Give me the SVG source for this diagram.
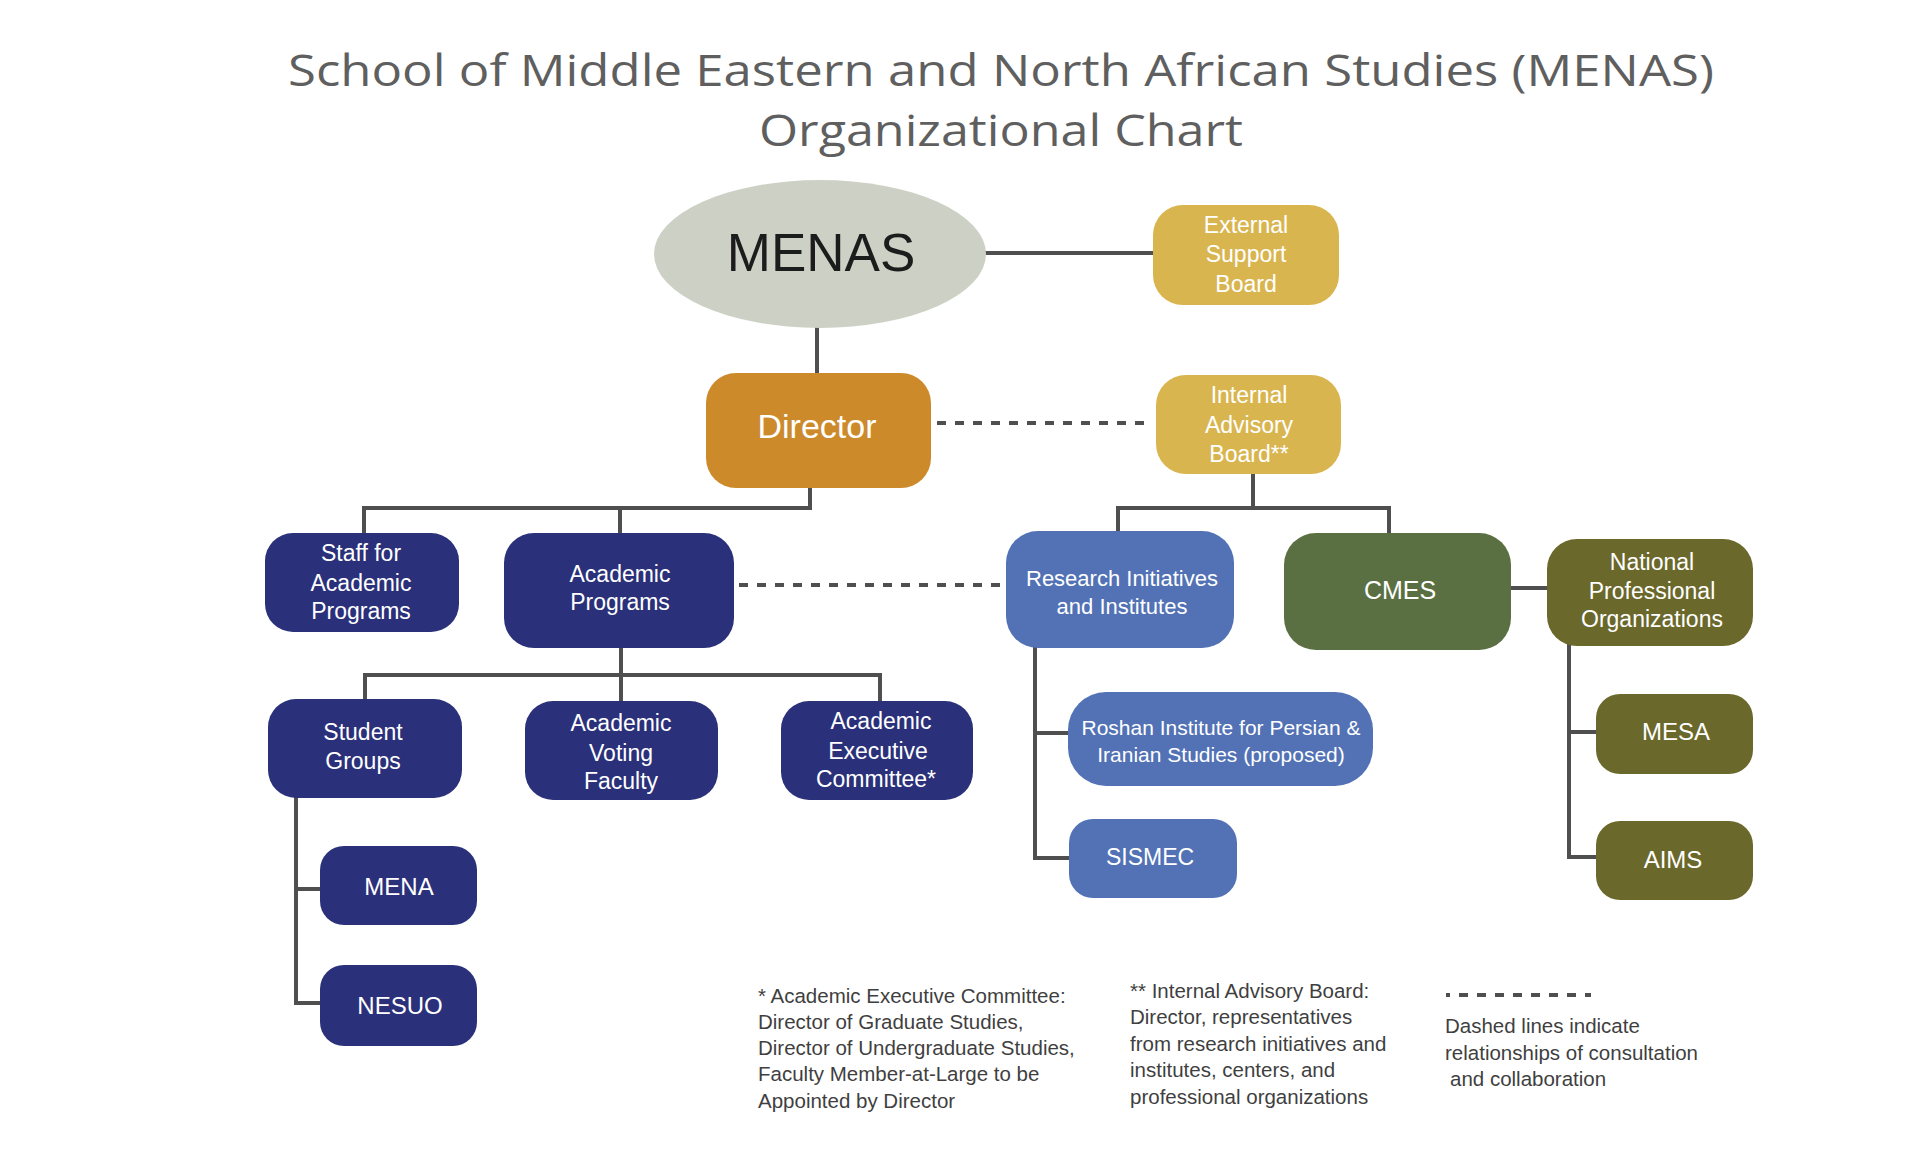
<svg xmlns="http://www.w3.org/2000/svg" width="1920" height="1155" viewBox="0 0 1920 1155">
<style>
  .title { font-family: "Open Sans", "Liberation Sans", sans-serif; font-size: 44px; fill: #5f5f5f; text-anchor: middle; }
  .t { font-family: "Liberation Sans", "Open Sans", sans-serif; font-size: 23px; fill: #ffffff; text-anchor: middle; }
  .s21 { font-size: 21px; }
  .s22 { font-size: 22px; }
  .s24 { font-size: 24px; }
  .s25 { font-size: 25px; }
  .s34 { font-size: 34px; }
  .note { font-family: "Liberation Sans", "Open Sans", sans-serif; font-size: 20.5px; fill: #3f3f3f; }
  .ln { fill: none; stroke: #4f4f4f; stroke-width: 4; }
  .dash { fill: none; stroke: #4f4f4f; stroke-width: 4; stroke-dasharray: 9 9; }
  .navy { fill: #2a3079; }
  .blue { fill: #5272b5; }
  .gold { fill: #d9b54f; }
  .olive { fill: #6b682b; }
</style>
<rect width="1920" height="1155" fill="#ffffff"/>
<g id="title">
  <text class="title" x="1001" y="86" textLength="1426" lengthAdjust="spacingAndGlyphs">School of Middle Eastern and North African Studies (MENAS)</text>
  <text class="title" x="1001" y="146" textLength="484" lengthAdjust="spacingAndGlyphs">Organizational Chart</text>
</g>
<g id="connectors">
  <line class="ln" x1="985" y1="253" x2="1155" y2="253"/>
  <line class="ln" x1="817" y1="326" x2="817" y2="375"/>
  <line class="dash" x1="937" y1="423" x2="1153" y2="423"/>
  <path class="ln" d="M810,486 V508 H364 V535 M620,508 V535"/>
  <path class="ln" d="M1253,472 V508 M1118,533 V508 H1389 V535"/>
  <line class="dash" x1="739" y1="585" x2="1003" y2="585"/>
  <path class="ln" d="M621,646 V703 M365,701 V675 H880 V703"/>
  <path class="ln" d="M296,796 V1003 H322 M296,889 H322"/>
  <path class="ln" d="M1035,646 V858 H1071 M1035,733 H1070"/>
  <line class="ln" x1="1509" y1="588" x2="1549" y2="588"/>
  <path class="ln" d="M1569,644 V857 H1598 M1569,732 H1598"/>
</g>
<g id="menas">
  <ellipse cx="820" cy="254" rx="166" ry="74" fill="#cdd1c5"/>
  <text x="821" y="271" font-family="Liberation Sans, Open Sans, sans-serif" font-size="53" fill="#1c1c1c" text-anchor="middle">MENAS</text>
</g>
<g id="external-support-board">
  <rect class="gold" x="1153" y="205" width="186" height="100" rx="30"/>
  <text class="t" x="1246" y="233">External</text>
  <text class="t" x="1246" y="262">Support</text>
  <text class="t" x="1246" y="292">Board</text>
</g>
<g id="director">
  <rect x="706" y="373" width="225" height="115" rx="30" fill="#cd8a2b"/>
  <text class="t s34" x="817" y="438">Director</text>
</g>
<g id="internal-advisory-board">
  <rect class="gold" x="1156" y="375" width="185" height="99" rx="30"/>
  <text class="t" x="1249" y="403">Internal</text>
  <text class="t" x="1249" y="433">Advisory</text>
  <text class="t" x="1249" y="462">Board**</text>
</g>
<g id="staff-for-academic-programs">
  <rect class="navy" x="265" y="533" width="194" height="99" rx="28"/>
  <text class="t" x="361" y="561">Staff for</text>
  <text class="t" x="361" y="591">Academic</text>
  <text class="t" x="361" y="619">Programs</text>
</g>
<g id="academic-programs">
  <rect class="navy" x="504" y="533" width="230" height="115" rx="30"/>
  <text class="t" x="620" y="582">Academic</text>
  <text class="t" x="620" y="610">Programs</text>
</g>
<g id="student-groups">
  <rect class="navy" x="268" y="699" width="194" height="99" rx="28"/>
  <text class="t" x="363" y="740">Student</text>
  <text class="t" x="363" y="769">Groups</text>
</g>
<g id="academic-voting-faculty">
  <rect class="navy" x="525" y="701" width="193" height="99" rx="28"/>
  <text class="t" x="621" y="731">Academic</text>
  <text class="t" x="621" y="761">Voting</text>
  <text class="t" x="621" y="789">Faculty</text>
</g>
<g id="academic-executive-committee">
  <rect class="navy" x="781" y="701" width="192" height="99" rx="28"/>
  <text class="t" x="881" y="729">Academic</text>
  <text class="t" x="878" y="759">Executive</text>
  <text class="t" x="876" y="787">Committee*</text>
</g>
<g id="mena">
  <rect class="navy" x="320" y="846" width="157" height="79" rx="24"/>
  <text class="t s24" x="399" y="895">MENA</text>
</g>
<g id="nesuo">
  <rect class="navy" x="320" y="965" width="157" height="81" rx="24"/>
  <text class="t s24" x="400" y="1014">NESUO</text>
</g>
<g id="research-initiatives">
  <rect class="blue" x="1006" y="531" width="228" height="117" rx="32"/>
  <text class="t s22" x="1122" y="586">Research Initiatives</text>
  <text class="t s22" x="1122" y="614">and Institutes</text>
</g>
<g id="roshan-institute">
  <rect class="blue" x="1068" y="692" width="305" height="94" rx="38"/>
  <text class="t s21" x="1221" y="735">Roshan Institute for Persian &amp;</text>
  <text class="t s21" x="1221" y="762">Iranian Studies (proposed)</text>
</g>
<g id="sismec">
  <rect class="blue" x="1069" y="819" width="168" height="79" rx="24"/>
  <text class="t" x="1150" y="865">SISMEC</text>
</g>
<g id="cmes">
  <rect x="1284" y="533" width="227" height="117" rx="32" fill="#5a7043"/>
  <text class="t s25" x="1400" y="599">CMES</text>
</g>
<g id="national-professional-organizations">
  <rect class="olive" x="1547" y="539" width="206" height="107" rx="30"/>
  <text class="t" x="1652" y="570">National</text>
  <text class="t" x="1652" y="599">Professional</text>
  <text class="t" x="1652" y="627">Organizations</text>
</g>
<g id="mesa">
  <rect class="olive" x="1596" y="694" width="157" height="80" rx="24"/>
  <text class="t s24" x="1676" y="740">MESA</text>
</g>
<g id="aims">
  <rect class="olive" x="1596" y="821" width="157" height="79" rx="24"/>
  <text class="t s24" x="1673" y="868">AIMS</text>
</g>
<g id="notes">
  <text class="note" x="758" y="1003">* Academic Executive Committee:</text>
  <text class="note" x="758" y="1029">Director of Graduate Studies,</text>
  <text class="note" x="758" y="1055">Director of Undergraduate Studies,</text>
  <text class="note" x="758" y="1081">Faculty Member-at-Large to be</text>
  <text class="note" x="758" y="1108">Appointed by Director</text>
  <text class="note" x="1130" y="998">** Internal Advisory Board:</text>
  <text class="note" x="1130" y="1024">Director, representatives</text>
  <text class="note" x="1130" y="1051">from research initiatives and</text>
  <text class="note" x="1130" y="1077">institutes, centers, and</text>
  <text class="note" x="1130" y="1104">professional organizations</text>
  <line class="dash" x1="1446" y1="995" x2="1591" y2="995" stroke-dashoffset="5"/>
  <text class="note" x="1445" y="1033">Dashed lines indicate</text>
  <text class="note" x="1445" y="1060">relationships of consultation</text>
  <text class="note" x="1450" y="1086">and collaboration</text>
</g>
</svg>
